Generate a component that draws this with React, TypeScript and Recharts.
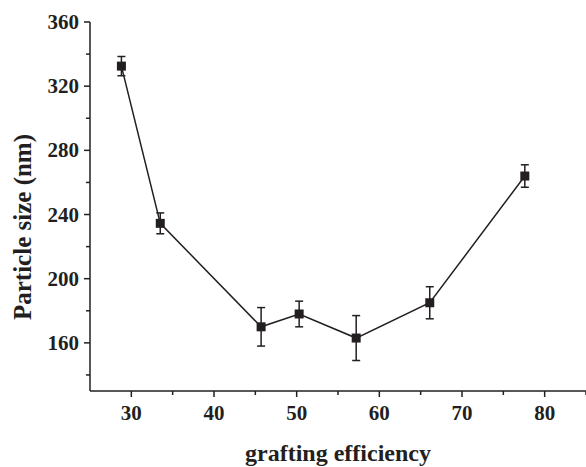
import { LineChart, Line, XAxis, YAxis, ErrorBar, Label } from 'recharts';

const efficiency = [28.8, 33.5, 45.7, 50.3, 57.2, 66.1, 77.6];
const particleSize = [332.5, 234.5, 170, 178, 163, 185, 264];
const sizeError = [6, 6.5, 12, 8, 14, 10, 7];

const xTicks = [30, 35, 40, 45, 50, 55, 60, 65, 70, 75, 80, 85];
const xMajor = [30, 40, 50, 60, 70, 80];
const yTicks = [140, 160, 180, 200, 220, 240, 260, 280, 300, 320, 340, 360];
const yMajor = [160, 200, 240, 280, 320, 360];

const data = efficiency.map((x, i) => ({ x, y: particleSize[i], err: sizeError[i] }));

const FONT = "'Liberation Serif', 'DejaVu Serif', serif";
const INK = '#231f20';

function XTick({ x, y, payload }: any) {
  const major = xMajor.includes(payload.value);
  return (
    <g>
      <line x1={x} y1={y} x2={x} y2={y + (major ? 6 : 4)} stroke={INK} strokeWidth={1.5} />
      {major && (
        <text x={x} y={y + 29} textAnchor="middle" fontFamily={FONT} fontWeight="bold" fontSize={21} fill={INK}>
          {payload.value}
        </text>
      )}
    </g>
  );
}

function YTick({ x, y, payload }: any) {
  const major = yMajor.includes(payload.value);
  return (
    <g>
      <line x1={x - (major ? 6 : 4)} y1={y} x2={x} y2={y} stroke={INK} strokeWidth={1.5} />
      {major && (
        <text x={x - 11} y={y + 7} textAnchor="end" fontFamily={FONT} fontWeight="bold" fontSize={21} fill={INK}>
          {payload.value}
        </text>
      )}
    </g>
  );
}

function SquareDot({ cx, cy }: any) {
  return <rect x={cx - 4.5} y={cy - 4.5} width={9} height={9} fill={INK} />;
}

export default function App() {
  return (
    <div style={{ position: 'absolute', left: 0, top: 0, width: 586, height: 467, background: '#fff', fontFamily: FONT }}>
      <LineChart
        width={586}
        height={467}
        data={data}
        margin={{ top: 22, right: 0, bottom: 46, left: 0 }}
        style={{ fontFamily: FONT }}
      >
        <XAxis
          type="number"
          dataKey="x"
          domain={[25, 85]}
          ticks={xTicks}
          interval={0}
          height={30}
          tickSize={0}
          tickMargin={0}
          tick={<XTick />}
          axisLine={{ stroke: INK, strokeWidth: 1.5 }}
          allowDataOverflow
        >
          <Label
            content={() => (
              <text x={338} y={461} textAnchor="middle" fontFamily={FONT} fontWeight="bold" fontSize={24} fill={INK}>
                grafting efficiency
              </text>
            )}
          />
        </XAxis>
        <YAxis
          type="number"
          domain={[130, 360]}
          ticks={yTicks}
          interval={0}
          width={90}
          tickSize={0}
          tickMargin={0}
          tick={<YTick />}
          axisLine={{ stroke: INK, strokeWidth: 1.5 }}
          allowDataOverflow
        >
          <Label
            content={() => (
              <text
                x={31}
                y={227}
                transform="rotate(-90 31 227)"
                textAnchor="middle"
                fontFamily={FONT}
                fontWeight="bold"
                fontSize={25}
                fill={INK}
              >
                Particle size (nm)
              </text>
            )}
          />
        </YAxis>
        <Line
          type="linear"
          dataKey="y"
          stroke={INK}
          strokeWidth={1.5}
          dot={<SquareDot />}
          activeDot={false}
          isAnimationActive={false}
        >
          <ErrorBar dataKey="err" direction="y" width={4} stroke={INK} strokeWidth={1.5} />
        </Line>
      </LineChart>
    </div>
  );
}
